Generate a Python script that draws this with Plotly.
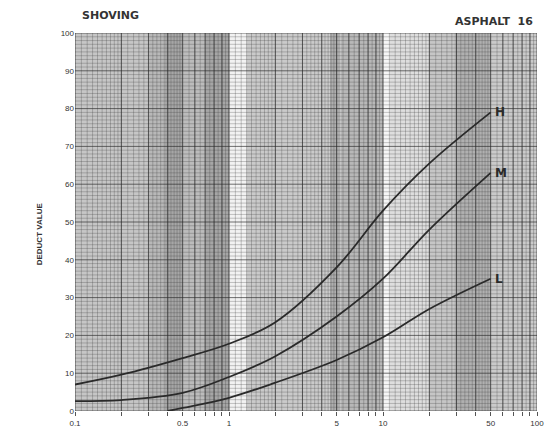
import numpy as np
import plotly.graph_objects as go

# ---- data ----
h_x = [0.1, 0.2, 0.5, 1, 2, 5, 10, 20, 50]
h_y = [7, 9.6, 14, 17.8, 23.5, 38, 53, 65.5, 79]
m_x = [0.1, 0.2, 0.5, 1, 2, 5, 10, 20, 50]
m_y = [2.6, 2.9, 4.8, 9, 14.5, 25, 35, 48, 63]
l_x = [0.4, 0.5, 1, 2, 5, 10, 20, 50]
l_y = [0, 0.8, 3.5, 7.5, 13.5, 19.5, 27, 35]
series_names = ["H", "M", "L"]

x_tick_vals = [0.1, 0.5, 1, 5, 10, 50, 100]
x_tick_text = ["0.1", "0.5", "1", "5", "10", "50", "100"]
y_tick_vals = list(range(0, 101, 10))

title_left = "SHOVING"
title_right = "ASPHALT  16"
y_title = "DEDUCT VALUE"

# ---- decoration: paper shading bands (x ranges in data units) ----
bands = [
    (0.1, 0.3, "#c6c6c6"), (0.3, 0.38, "#b8b8b8"), (0.38, 0.5, "#a6a6a6"),
    (0.5, 0.7, "#bcbcbc"), (0.7, 1.0, "#a6a6a6"), (1.0, 1.3, "#f2f2f2"),
    (1.3, 4.5, "#cacaca"), (4.5, 5.3, "#aeaeae"), (5.3, 10, "#b8b8b8"),
    (10, 11, "#f6f6f6"), (11, 20, "#dedede"), (20, 29, "#c6c6c6"),
    (29, 50, "#b0b0b0"), (50, 100, "#cacaca"),
]

fig = go.Figure()

for x0, x1, c in bands:
    fig.add_shape(type="rect", xref="x", yref="y", x0=x0, x1=x1, y0=0, y1=100,
                  fillcolor=c, line=dict(width=0), layer="below")

# ---- graph paper grid ----
def vlines(vals):
    xs, ys = [], []
    for v in vals:
        xs += [v, v, None]
        ys += [0, 100, None]
    return xs, ys

def hlines(vals):
    xs, ys = [], []
    for v in vals:
        xs += [0.1, 100, None]
        ys += [v, v, None]
    return xs, ys

minor_v = []
major_v = []
for dec in [0.1, 1, 10]:
    minor_v += list(np.arange(1.0, 2.0, 0.1) * dec)
    minor_v += list(np.arange(2.0, 5.0, 0.2) * dec)
    minor_v += list(np.arange(5.0, 10.0, 0.5) * dec)
    major_v += [k * dec for k in range(1, 10)]
major_v.append(100)

minor_h = [v for v in range(0, 101) if v % 10 != 0]
major_h = list(range(0, 101, 10))

gx, gy = vlines(minor_v)
hx, hy = hlines(minor_h)
fig.add_trace(go.Scatter(x=gx + hx, y=gy + hy, mode="lines",
                         line=dict(color="rgba(60,60,60,0.4)", width=0.7),
                         hoverinfo="skip", showlegend=False))
gx, gy = vlines(major_v)
hx, hy = hlines(major_h)
fig.add_trace(go.Scatter(x=gx + hx, y=gy + hy, mode="lines",
                         line=dict(color="rgba(40,40,40,0.65)", width=1),
                         hoverinfo="skip", showlegend=False))

# ---- curves ----
for name, xs, ys in zip(series_names, [h_x, m_x, l_x], [h_y, m_y, l_y]):
    fig.add_trace(go.Scatter(x=xs, y=ys, mode="lines", name=name,
                             line=dict(color="#2a2a2a", width=1.8, shape="spline", smoothing=1.0),
                             showlegend=False))
    fig.add_annotation(x=np.log10(xs[-1]), y=ys[-1], xref="x", yref="y", text="<b>%s</b>" % name,
                       showarrow=False, xanchor="left", yanchor="middle", xshift=2,
                       font=dict(family="DejaVu Sans, Arial", size=12, color="#2a2a2a"))

all_ticks = []
for dec in [0.1, 1, 10]:
    all_ticks += [k * dec for k in range(1, 10)]
all_ticks.append(100)
tick_text = []
for v in all_ticks:
    lab = ""
    for t, s in zip(x_tick_vals, x_tick_text):
        if abs(v - t) < 1e-9:
            lab = s
    tick_text.append(lab)

fig.update_layout(
    width=544, height=441,
    margin=dict(l=75, r=7, t=33, b=30),
    paper_bgcolor="white", plot_bgcolor="white",
    font=dict(family="Liberation Sans, Arial", color="#333"),
    xaxis=dict(type="log", range=[-1, 2], tickvals=all_ticks, ticktext=tick_text,
               ticks="outside", ticklen=4, tickcolor="#555", tickwidth=1, automargin=False,
               showgrid=False, zeroline=False, showline=False, ticklabeloverflow="allow",
               tickfont=dict(size=8, color="#333")),
    yaxis=dict(range=[0, 100], tickvals=y_tick_vals, ticks="", showgrid=False, automargin=False,
               zeroline=False, showline=False, tickfont=dict(size=8, color="#333")),
    annotations=list(fig.layout.annotations) + [
        dict(text="<b>%s</b>" % title_left, xref="paper", yref="paper", x=0.01, y=1.045,
             xanchor="left", yanchor="middle", showarrow=False,
             font=dict(family="DejaVu Sans, Arial", size=11, color="#333")),
        dict(text="<b>%s</b>" % title_right, xref="paper", yref="paper", x=0.996, y=1.03,
             xanchor="right", yanchor="middle", showarrow=False,
             font=dict(family="DejaVu Sans, Arial", size=11, color="#333")),
        dict(text="<b>%s</b>" % y_title, xref="paper", yref="paper", x=-0.078, y=0.47,
             xanchor="center", yanchor="middle", showarrow=False, textangle=-90,
             font=dict(size=8, color="#333")),
    ],
)

fig.write_html("out.html", config={"displayModeBar": False},
               post_script="document.body.style.margin='0';document.body.style.overflow='hidden';")
